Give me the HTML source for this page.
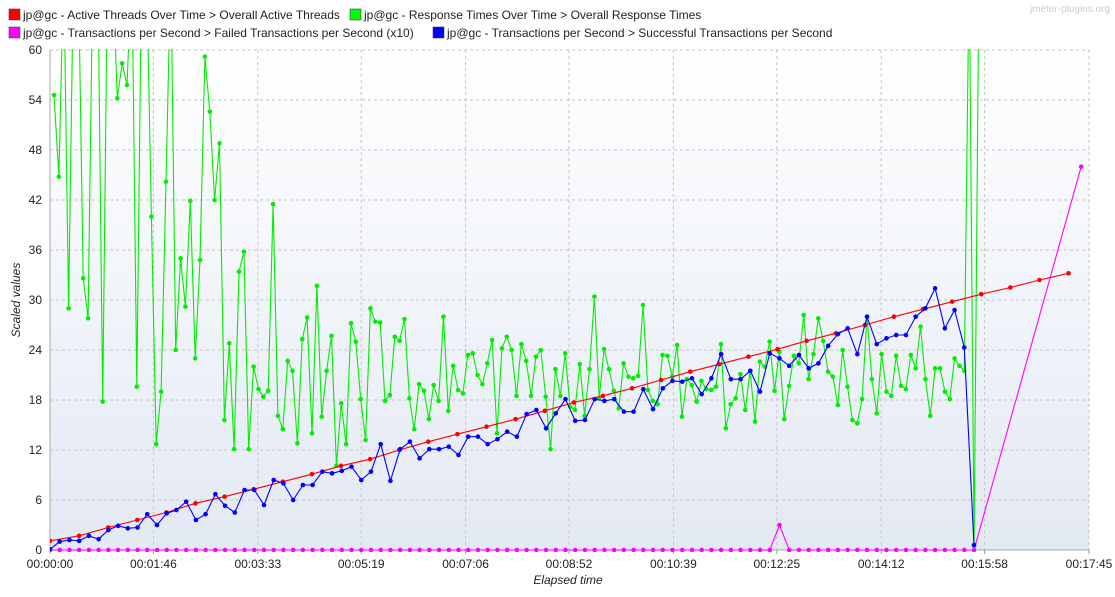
<!DOCTYPE html>
<html><head><meta charset="utf-8"><style>
body{margin:0;background:#fff;width:1115px;height:592px;overflow:hidden;font-family:"Liberation Sans",sans-serif}
svg text{font-family:"Liberation Sans",sans-serif}
</style></head><body>
<svg id="chart" width="1115" height="592" xmlns="http://www.w3.org/2000/svg">
<defs>
<linearGradient id="bg" x1="0" y1="0" x2="0" y2="1"><stop offset="0" stop-color="#ffffff"/><stop offset="1" stop-color="#e3e9f4"/></linearGradient>
<clipPath id="clip"><rect x="50" y="49" width="1040" height="503"/></clipPath>
</defs>
<rect x="50" y="50" width="1039" height="500" fill="url(#bg)"/>
<g id="grid"></g><g id="axes"></g>
<g id="series" clip-path="url(#clip)"></g>
<g font-size="12" fill="#222">
<rect x="9" y="9" width="11" height="11" fill="#f00" stroke="#444" stroke-width="0.6"/>
<text x="23" y="19">jp@gc - Active Threads Over Time &gt; Overall Active Threads</text>
<rect x="350" y="9" width="11" height="11" fill="#0f0" stroke="#444" stroke-width="0.6"/>
<text x="364" y="19">jp@gc - Response Times Over Time &gt; Overall Response Times</text>
<rect x="9" y="27" width="11" height="11" fill="#f0f" stroke="#444" stroke-width="0.6"/>
<text x="23" y="37">jp@gc - Transactions per Second &gt; Failed Transactions per Second (x10)</text>
<rect x="433" y="27" width="11" height="11" fill="#00f" stroke="#444" stroke-width="0.6"/>
<text x="447" y="37">jp@gc - Transactions per Second &gt; Successful Transactions per Second</text>
</g>
<text x="1110" y="12" font-size="10" fill="#ccc" text-anchor="end">jmeter-plugins.org</text>
<text transform="translate(20,300) rotate(-90)" font-size="12" font-style="italic" text-anchor="middle" fill="#222">Scaled values</text>
<text x="568" y="584" font-size="12" font-style="italic" text-anchor="middle" fill="#222">Elapsed time</text>
</svg>
<script>
const yTicks=[0,6,12,18,24,30,36,42,48,54,60];
const xTickSecs=[0,106,213,319,426,532,639,745,852,958,1065];
const xTickLabels=["00:00:00","00:01:46","00:03:33","00:05:19","00:07:06","00:08:52","00:10:39","00:12:25","00:14:12","00:15:58","00:17:45"];
const greenStart=4.1, greenStep=4.99;
const greenValues=[54.6,44.8,70,29,70,70,32.6,27.8,70,70,17.8,70,70,54.2,58.4,55.8,70,19.6,70,70,40,12.7,19,44.2,70,24,35,29.2,41.9,23,34.8,59.2,52.6,42,48.8,15.6,24.8,12.1,33.4,35.8,12.1,22,19.3,18.4,19.1,41.5,16.1,14.5,22.7,21.5,12.8,25.3,27.9,14,31.7,16,21.5,25.7,10.1,17.6,12.7,27.2,25,18.1,13.2,29,27.4,27.3,17.9,18.6,25.6,25.1,27.7,18.2,14.5,19.9,19.1,15.7,19.8,17.9,28,16.7,22.1,19.2,18.8,23.4,23.6,21,19.9,22.4,25.2,14,24.2,25.6,24,18.5,24.7,22.7,18.5,23.2,24,18.4,12.1,21.7,18.5,23.6,17.2,16.8,22.3,16.1,21.7,30.4,18.2,24.1,21.7,19.1,17,22.4,20.8,20.6,20.9,29.4,19.2,17.9,17.5,23.4,23.3,20.8,24.6,16,20.5,19.8,17.8,20.3,19.3,19.2,19.6,24.7,14.6,17.5,18.2,21.1,16.8,21.5,15.4,22.6,22,25,19.1,23.8,15.7,19.7,23.3,22.4,28.2,20.5,23.5,27.8,25.1,21.4,20.8,17.4,24,19.6,15.6,15.2,18.1,28,20.5,16.4,23.5,19,18.5,23.3,19.7,19.3,23.4,21.8,26.8,20.5,16.1,21.8,21.8,19,18.1,23,22.1,21.5,70,0.5,70];
const redStep=29.83;
const redValues=[1.1,1.7,2.7,3.6,4.5,5.6,6.4,7.3,8.2,9.1,10.1,10.9,12,13,13.9,14.8,15.7,16.7,17.7,18.5,19.4,20.4,21.4,22.3,23.2,24.1,25.1,26,27,28,28.9,29.8,30.7,31.5,32.4,33.2];
const tpsStep=9.97;
const blueValues=[0.1,1,1.2,1.1,1.7,1.3,2.4,2.9,2.6,2.7,4.3,3,4.4,4.8,5.8,3.6,4.3,6.7,5.3,4.5,7.2,7.2,5.4,8.4,8,6,7.8,7.8,9.4,9.2,9.5,10,8.4,9.4,12.7,8.3,12.1,13,11,12.1,12.1,12.4,11.4,13.6,13.6,12.7,13.3,14.2,13.6,16.3,16.8,14.6,16.4,18.1,15.5,15.6,18.1,17.9,18.1,16.6,16.6,19.3,16.9,19.4,20.3,20.2,20.6,18.7,20.6,23.5,20.5,20.5,21.5,19,23.6,23,22.1,23.4,21.8,22.4,24.5,25.9,26.6,23.5,28,24.7,25.4,25.8,25.8,28,29,31.4,26.6,28.8,24.3,0.6];
const magentaValues=[0,0,0,0,0,0,0,0,0,0,0,0,0,0,0,0,0,0,0,0,0,0,0,0,0,0,0,0,0,0,0,0,0,0,0,0,0,0,0,0,0,0,0,0,0,0,0,0,0,0,0,0,0,0,0,0,0,0,0,0,0,0,0,0,0,0,0,0,0,0,0,0,0,0,0,3,0,0,0,0,0,0,0,0,0,0,0,0,0,0,0,0,0,0,0,0];
const magentaLastSec=1057, magentaLastValue=46;

const X0=50,X1=1089,Y0=550,Y1=50,XMAX=1065,YMAX=60;
const xs=t=>X0+t/XMAX*(X1-X0);
const ys=v=>Y0-v/YMAX*(Y0-Y1);
const NS="http://www.w3.org/2000/svg";
function mk(tag,attrs,parent){const e=document.createElementNS(NS,tag);for(const k in attrs)e.setAttribute(k,attrs[k]);parent.appendChild(e);return e;}
const grid=document.getElementById('grid'),axes=document.getElementById('axes'),ser=document.getElementById('series');
yTicks.forEach(v=>{
  const l=mk('line',{x1:X0,x2:X1,y1:ys(v),y2:ys(v),stroke:'#c4c4c4','stroke-dasharray':'3,3'},grid);
  
  
  const t=mk('text',{x:42,y:ys(v)+4,'font-size':12,'text-anchor':'end',fill:'#222'},axes);
  t.textContent=v;
  
  
});
xTickSecs.forEach((s,i)=>{
  const l=mk('line',{x1:xs(s),x2:xs(s),y1:Y1,y2:Y0,stroke:'#c4c4c4','stroke-dasharray':'3,3'},grid);
  
  
  const t=mk('text',{x:xs(s),y:568,'font-size':12,'text-anchor':'middle',fill:'#222'},axes);
  t.textContent=xTickLabels[i];
  
  
  const tk=mk('line',{x1:xs(s),x2:xs(s),y1:Y0,y2:Y0+4,stroke:'#999'},axes);
  
  
});
const ax=mk('path',{d:`M${X0},${Y1}V${Y0}H${X1}`,fill:'none',stroke:'#aaa'},axes);


function series(name,pts,color){
  const g=mk('g',{},ser);
  
  
  const p=mk('polyline',{points:pts.map(q=>xs(q[0]).toFixed(1)+','+ys(q[1]).toFixed(1)).join(' '),fill:'none',stroke:color,'stroke-width':1.1},g);
  
  
  pts.forEach(q=>{
    const c=mk('circle',{cx:xs(q[0]),cy:ys(q[1]),r:2.3,fill:color},g);
    
    
  });
}
const magPts=magentaValues.map((v,i)=>[i*tpsStep,v]);magPts.push([magentaLastSec,magentaLastValue]);
series('failed-tps-series',magPts,'#ff00ff');
series('response-times-series',greenValues.map((v,i)=>[greenStart+i*greenStep,v]),'#00ee00');
series('active-threads-series',redValues.map((v,i)=>[i*redStep,v]),'#ff0000');
series('successful-tps-series',blueValues.map((v,i)=>[i*tpsStep,v]),'#0000ff');
</script>
</body></html>
